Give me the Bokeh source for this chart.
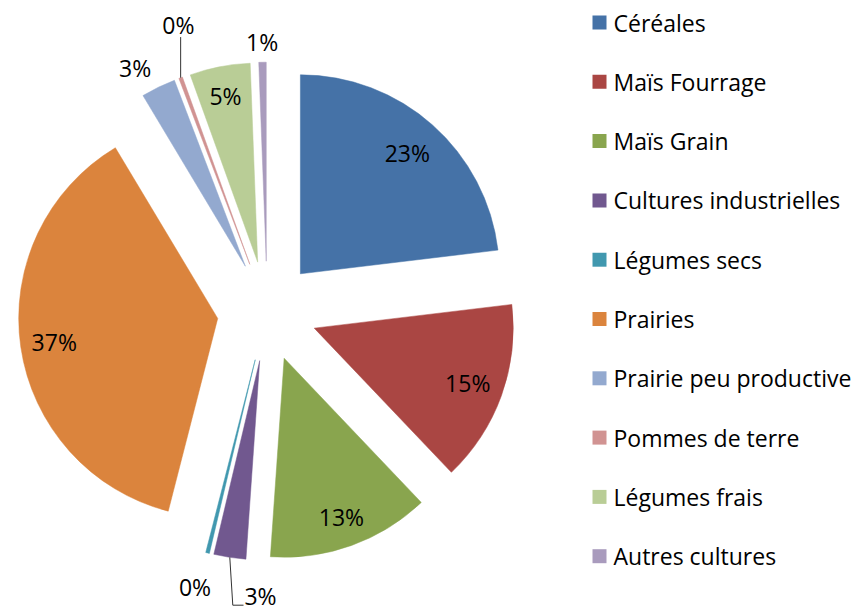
import math
from bokeh.plotting import figure
from bokeh.models import Range1d, ColumnDataSource
from bokeh.embed import file_html
from bokeh.resources import INLINE
from bokeh.core.properties import value

# ---------------- data ----------------
categories = ["Céréales", "Maïs Fourrage", "Maïs Grain", "Cultures industrielles",
              "Légumes secs", "Prairies", "Prairie peu productive", "Pommes de terre",
              "Légumes frais", "Autres cultures"]
shares = [23.1, 14.8, 13.2, 2.6, 0.3, 37.4, 2.8, 0.3, 4.9, 0.6]
colors = ["#4572A7", "#AA4643", "#89A54E", "#71588F", "#4198AF",
          "#DB843D", "#93A9CF", "#D19392", "#B9CD96", "#A99BBD"]

# ---------------- layout / style (page pixels) ----------------
W, H = 858, 613
CX, CY = 266.7, 310.7          # pie centre on the page
R = 199                        # radius
EXPLODE = 50                   # explosion distance
LABEL_R = [0.81, 0.82, 0.85, 1.21, 1.18, 0.83, 1.14, 1.25, 0.85, 1.10]
LABEL_NUDGE = [(0, 0), (0, 0), (0, 0), (37, -2.5), (-4, -1), (0, 0),
               (-11, 6), (15, -6), (0, 0), (0, 0)]
LEADER = [False, False, False, True, False, False, False, True, False, False]
FONT = "Open Sans"
FSIZE = "23px"
LEG_X, LEG_Y0, LEG_STEP = 599, 22, 59.3


def yd(py):
    return H - py


total = sum(shares)
cum = 0.0
wx, wy, wstart, wend = [], [], [], []
lx, ly, ltxt = [], [], []
lead_xs, lead_ys = [], []
for i, v in enumerate(shares):
    t1 = cum / total * 360.0
    cum += v
    t2 = cum / total * 360.0
    bis = math.radians((t1 + t2) / 2)
    ux, uy = math.sin(bis), -math.cos(bis)          # page direction (y down)
    ax, ay = CX + EXPLODE * ux, CY + EXPLODE * uy   # apex of exploded slice
    wx.append(ax)
    wy.append(yd(ay))
    wstart.append(math.radians(90 - t2))
    wend.append(math.radians(90 - t1))
    px = ax + LABEL_R[i] * R * ux + LABEL_NUDGE[i][0]
    py = ay + LABEL_R[i] * R * uy + LABEL_NUDGE[i][1]
    lx.append(px)
    ly.append(yd(py))
    ltxt.append(f"{round(v / total * 100):d}%")
    if LEADER[i]:
        ox, oy = ax + R * ux, ay + R * uy
        if uy < 0:   # label above
            lead_xs.append([ox, ox])
            lead_ys.append([yd(oy), yd(py + 12)])
        else:        # label below, elbow to the right
            lead_xs.append([ox, ox + 3, px - 17])
            lead_ys.append([yd(oy), yd(py + 9), yd(py + 9)])

p = figure(width=W, height=H, x_range=Range1d(0, W), y_range=Range1d(0, H),
           output_backend="svg", toolbar_location=None, min_border=0,
           x_axis_type=None, y_axis_type=None, outline_line_color=None,
           background_fill_color="white", border_fill_color="white")
p.grid.visible = False

src = ColumnDataSource(dict(x=wx, y=wy, s=wstart, e=wend, c=colors, name=categories))
p.wedge(x="x", y="y", radius=R, start_angle="s", end_angle="e",
        fill_color="c", line_color="c", line_width=0.5, source=src)

p.multi_line(xs=lead_xs, ys=lead_ys, line_color="#333333", line_width=1)

p.text(x=lx, y=ly, text=ltxt, text_font=value(FONT), text_font_size=FSIZE,
       text_align="center", text_baseline="middle", text_color="#000000")

# legend
leg_y = [yd(LEG_Y0 + LEG_STEP * i) for i in range(len(categories))]
p.scatter(x=[LEG_X] * len(categories), y=leg_y, marker="square", size=14,
          fill_color=colors, line_color=None)
p.text(x=[LEG_X + 14] * len(categories), y=leg_y, text=categories,
       text_font=value(FONT), text_font_size=FSIZE,
       text_align="left", text_baseline="middle", text_color="#000000")

open("out.html", "w").write(file_html(p, INLINE))
